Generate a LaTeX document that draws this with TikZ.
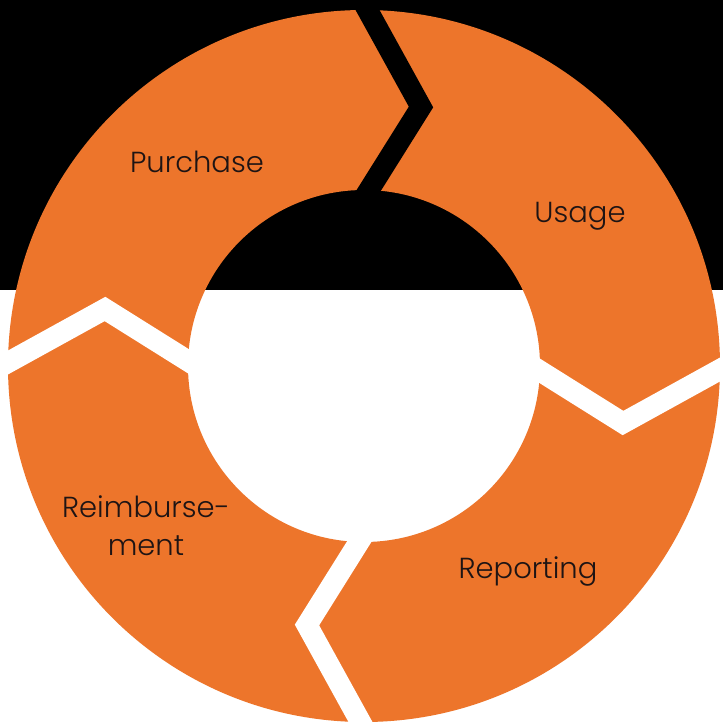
\documentclass[tikz,border=0pt]{standalone}
\usepackage{fontspec}
\setmainfont{Poppins Light}
\definecolor{ringorange}{RGB}{237,117,43}
\definecolor{labeltext}{RGB}{30,20,20}

\begin{document}
\begin{tikzpicture}[x=1pt, y=1pt,
		gap/.style={line width=21pt, miter limit=10},
		steplabel/.style={text=labeltext, font=\fontsize{29}{38}\selectfont, inner sep=0pt}]
	\useasboundingbox (-364,-361) rectangle (359,366);
	% background, black band on top
	\fill[white] (-364,-361) rectangle (359,76);
	\fill[black] (-364,76) rectangle (359,366);
	\coordinate (c) at (0,0);
	\fill[ringorange, even odd rule] (c) circle (356pt) (c) circle (176pt);
	% chevron cuts between the four steps
	\foreach \a/\col in {0/black, -90/white, 180/white, 90/white}
		\draw[gap, \col, rotate=\a] (-2,366) -- (57,259) -- (0,168);
	\node[steplabel, anchor=base] (purchase) at (-167,193) {Purchase};
	\node[steplabel, anchor=base] (usage) at (216,143) {Usage};
	\node[steplabel, anchor=base] (reporting) at (164,-212) {Reporting};
	\node[steplabel, anchor=north, align=center] (reimb) at (-218,-129) {Reimburse-\\ment};
\end{tikzpicture}
\end{document}
